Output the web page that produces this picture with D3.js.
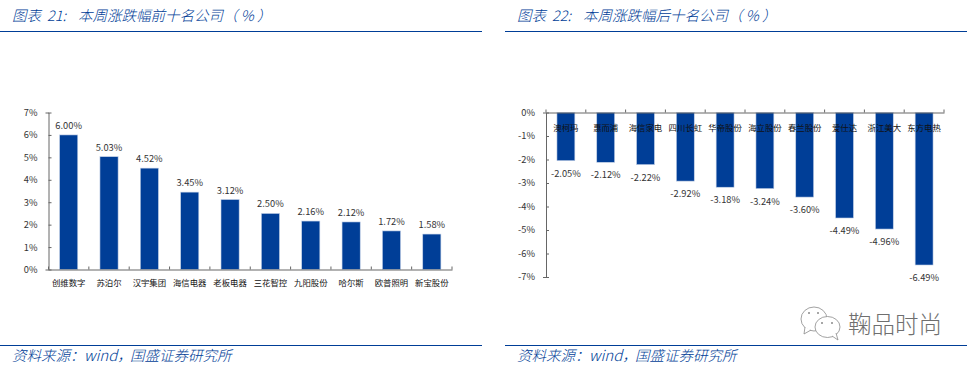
<!DOCTYPE html>
<html><head><meta charset="utf-8">
<script src="https://cdnjs.cloudflare.com/ajax/libs/d3/7.8.5/d3.min.js"></script>
<style>
html,body{margin:0;padding:0;background:#fff}
svg{display:block}
text{font-family:"Noto Sans CJK SC","Noto Sans",sans-serif;white-space:pre}
</style></head><body>
<svg id="c" width="974" height="366"></svg>
<script>
const topNames=["创维数字","苏泊尔","汉宇集团","海信电器","老板电器","三花智控","九阳股份","哈尔斯","欧普照明","新宝股份"];
const topValues=[6.00,5.03,4.52,3.45,3.12,2.50,2.16,2.12,1.72,1.58];
const bottomNames=["澳柯玛","惠而浦","海信家电","四川长虹","华帝股份","海立股份","春兰股份","爱仕达","浙江美大","东方电热"];
const bottomValues=[-2.05,-2.12,-2.22,-2.92,-3.18,-3.24,-3.60,-4.49,-4.96,-6.49];
const topTicks=[0,1,2,3,4,5,6,7];
const bottomTicks=[0,-1,-2,-3,-4,-5,-6,-7];
const titleLeft=["图表","21:","本周涨跌幅前十名公司","（ % ）"];
const titleRight=["图表","22:","本周涨跌幅后十名公司","（ % ）"];
const sourceParts=["资料来源：","wind，","国盛证券研究所"];
const brandText="鞠品时尚";

const BLUE="#003E97", AXIS="#666", TXT="#333";
const NUM="Lato, Carlito, sans-serif";
const svg=d3.select("#c");

function panel(o){
  const g=svg.append("g");
  [31.5,345.5].forEach(v=>g.append("line").attr("x1",o.rx0).attr("x2",o.rx1).attr("y1",v).attr("y2",v).attr("stroke",BLUE).attr("stroke-width",1));

  const offs=[0,35,66,211];
  o.title.forEach((s,i)=>g.append("text").attr("x",o.tx+offs[i]).attr("y",21).attr("fill",BLUE)
    .attr("font-size",14.5).attr("font-weight",300).attr("font-style","italic").text(s));
  const sOff=[0,72,118];
  sourceParts.forEach((s,i)=>g.append("text").attr("x",o.tx+sOff[i]).attr("y",361).attr("fill",BLUE)
    .attr("font-size",i==1?15:14.5).attr("font-weight",300).attr("font-style","italic")
    .attr("font-family",i==1?"'Liberation Sans','Noto Sans CJK SC'":null).text(s));

  const x=d3.scaleBand().domain(o.names).range([o.x0,o.x1]).paddingInner(0.55).paddingOuter(0.275);
  const y=d3.scaleLinear().domain(o.domain).range(o.yrange);
  const zero=y(0);
  g.selectAll("rect.bar").data(o.values).join("rect").attr("class","bar")
    .attr("x",(d,i)=>x(o.names[i])).attr("width",x.bandwidth())
    .attr("y",d=>Math.min(y(d),zero)).attr("height",d=>Math.abs(y(d)-zero))
    .attr("fill",BLUE).attr("stroke","#c5d3e8").attr("stroke-width",.6);

  const yAxis=d3.axisLeft(y).tickValues(o.ticks).tickFormat(d=>d+"%").tickSize(3).tickPadding(8);
  const ga=g.append("g").attr("transform",`translate(${o.x0},0)`).call(yAxis);
  ga.select(".domain").attr("stroke",AXIS);
  ga.selectAll(".tick line").attr("stroke",AXIS).attr("x2",3).attr("x1",0);
  ga.selectAll("text").attr("font-size",9.3).attr("fill",TXT).attr("font-family",NUM);

  const step=x.step();
  const gx=g.append("g").attr("transform",`translate(0,${zero})`).call(d3.axisBottom(x).tickValues([]).tickSize(0));
  gx.select(".domain").attr("stroke",AXIS);
  gx.selectAll("line.sep").data(d3.range(o.names.length+1)).join("line").attr("class","sep")
    .attr("x1",i=>o.x0+i*step).attr("x2",i=>o.x0+i*step)
    .attr("y1",0).attr("y2",-3).attr("stroke",AXIS);

  g.selectAll("text.val").data(o.values).join("text").attr("class","val")
    .attr("x",(d,i)=>x(o.names[i])+x.bandwidth()/2)
    .attr("y",d=>y(d)+o.valDy).attr("text-anchor","middle")
    .attr("font-size",9.3).attr("fill",TXT).attr("font-family",NUM)
    .text(d=>d.toFixed(2)+"%");

  g.selectAll("text.cat").data(o.names).join("text").attr("class","cat")
    .attr("x",d=>x(d)+x.bandwidth()/2).attr("y",o.catY).attr("text-anchor","middle")
    .attr("font-size",8.4).attr("fill","#111").text(d=>d);
}

panel({names:topNames,values:topValues,ticks:topTicks,domain:[0,7],yrange:[269.5,112.5],x0:48.5,x1:452,
  rx0:0,rx1:482,tx:12,title:titleLeft,valDy:-6,catY:285.5});
panel({names:bottomNames,values:bottomValues,ticks:bottomTicks,domain:[0,-7],yrange:[112.5,277],x0:546,x1:944,
  rx0:505,rx1:967,tx:517,title:titleRight,valDy:16,catY:130.5});

// brand watermark
const wm=svg.append("g").attr("fill","#fff").attr("stroke","#8a8a8a").attr("stroke-width",.8);
wm.append("ellipse").attr("cx",814).attr("cy",319).attr("rx",13).attr("ry",12);
wm.append("path").attr("d",d3.line()([[805,327],[804,334],[811,330]]));
wm.append("ellipse").attr("cx",827.5).attr("cy",327).attr("rx",12.5).attr("ry",10.5);
wm.append("path").attr("d",d3.line()([[832,336],[838,340],[836,333]]));
[[809,313],[818,313],[822,323],[832,323]].forEach(p=>svg.append("circle").attr("cx",p[0]).attr("cy",p[1]).attr("r",1).attr("fill","#8a8a8a"));
svg.append("text").attr("x",848).attr("y",333).attr("font-size",23.5).attr("font-weight",300).attr("fill","#6f6f6f").text(brandText);
</script></body></html>
